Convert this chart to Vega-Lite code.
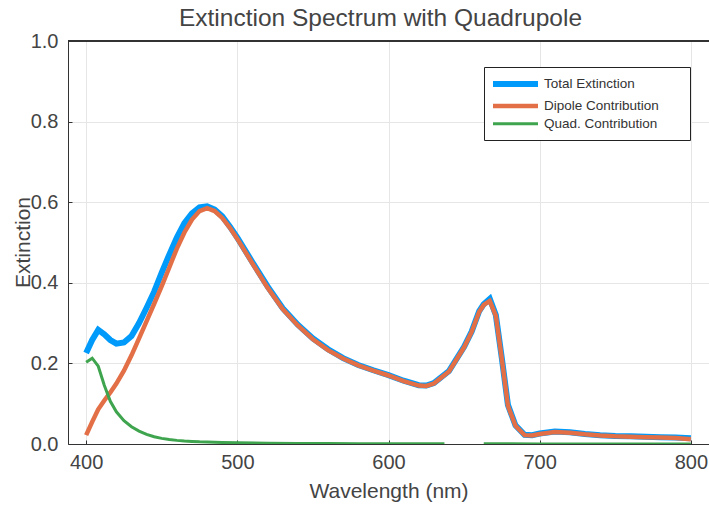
{
  "$schema": "https://vega.github.io/schema/vega-lite/v6.json",
  "width": 641,
  "height": 403,
  "autosize": {"type": "none"},
  "padding": {"left": 68, "top": 41, "right": 0, "bottom": 62},
  "background": "white",
  "title": {"text": "Extinction Spectrum with Quadrupole", "fontSize": 24.5, "font": "Liberation Sans", "fontWeight": "normal", "color": "#444444", "anchor": "middle", "offset": 0, "dx": -8},
  "config": {
    "view": {"stroke": null},
    "axis": {"labelFont": "Liberation Sans", "titleFont": "Liberation Sans", "labelColor": "#444444", "titleColor": "#444444", "titleFontWeight": "normal", "gridColor": "#e6e6e6", "gridWidth": 1, "domainColor": "#333333", "tickColor": "#333333"},
    "legend": {"labelFont": "Liberation Sans", "titleFont": "Liberation Sans"}
  },
  "data": {"values": [
    {"w":400,"s":"Total Extinction","v":0.226,"p":"a"},
    {"w":404,"s":"Total Extinction","v":0.258,"p":"a"},
    {"w":408,"s":"Total Extinction","v":0.283,"p":"a"},
    {"w":412,"s":"Total Extinction","v":0.272,"p":"a"},
    {"w":416,"s":"Total Extinction","v":0.258,"p":"a"},
    {"w":420,"s":"Total Extinction","v":0.249,"p":"a"},
    {"w":425,"s":"Total Extinction","v":0.252,"p":"a"},
    {"w":430,"s":"Total Extinction","v":0.268,"p":"a"},
    {"w":435,"s":"Total Extinction","v":0.300,"p":"a"},
    {"w":440,"s":"Total Extinction","v":0.338,"p":"a"},
    {"w":445,"s":"Total Extinction","v":0.378,"p":"a"},
    {"w":450,"s":"Total Extinction","v":0.425,"p":"a"},
    {"w":455,"s":"Total Extinction","v":0.470,"p":"a"},
    {"w":460,"s":"Total Extinction","v":0.512,"p":"a"},
    {"w":465,"s":"Total Extinction","v":0.548,"p":"a"},
    {"w":470,"s":"Total Extinction","v":0.572,"p":"a"},
    {"w":475,"s":"Total Extinction","v":0.587,"p":"a"},
    {"w":480,"s":"Total Extinction","v":0.590,"p":"a"},
    {"w":485,"s":"Total Extinction","v":0.582,"p":"a"},
    {"w":490,"s":"Total Extinction","v":0.565,"p":"a"},
    {"w":495,"s":"Total Extinction","v":0.540,"p":"a"},
    {"w":500,"s":"Total Extinction","v":0.512,"p":"a"},
    {"w":510,"s":"Total Extinction","v":0.451,"p":"a"},
    {"w":520,"s":"Total Extinction","v":0.391,"p":"a"},
    {"w":530,"s":"Total Extinction","v":0.337,"p":"a"},
    {"w":540,"s":"Total Extinction","v":0.296,"p":"a"},
    {"w":550,"s":"Total Extinction","v":0.262,"p":"a"},
    {"w":560,"s":"Total Extinction","v":0.235,"p":"a"},
    {"w":570,"s":"Total Extinction","v":0.213,"p":"a"},
    {"w":580,"s":"Total Extinction","v":0.196,"p":"a"},
    {"w":590,"s":"Total Extinction","v":0.183,"p":"a"},
    {"w":600,"s":"Total Extinction","v":0.171,"p":"a"},
    {"w":610,"s":"Total Extinction","v":0.157,"p":"a"},
    {"w":620,"s":"Total Extinction","v":0.146,"p":"a"},
    {"w":625,"s":"Total Extinction","v":0.145,"p":"a"},
    {"w":630,"s":"Total Extinction","v":0.151,"p":"a"},
    {"w":640,"s":"Total Extinction","v":0.181,"p":"a"},
    {"w":650,"s":"Total Extinction","v":0.241,"p":"a"},
    {"w":655,"s":"Total Extinction","v":0.279,"p":"a"},
    {"w":660,"s":"Total Extinction","v":0.330,"p":"a"},
    {"w":663,"s":"Total Extinction","v":0.347,"p":"a"},
    {"w":667,"s":"Total Extinction","v":0.360,"p":"a"},
    {"w":671,"s":"Total Extinction","v":0.320,"p":"a"},
    {"w":675,"s":"Total Extinction","v":0.212,"p":"a"},
    {"w":679,"s":"Total Extinction","v":0.097,"p":"a"},
    {"w":684,"s":"Total Extinction","v":0.046,"p":"a"},
    {"w":690,"s":"Total Extinction","v":0.023,"p":"a"},
    {"w":695,"s":"Total Extinction","v":0.022,"p":"a"},
    {"w":700,"s":"Total Extinction","v":0.026,"p":"a"},
    {"w":710,"s":"Total Extinction","v":0.031,"p":"a"},
    {"w":720,"s":"Total Extinction","v":0.029,"p":"a"},
    {"w":730,"s":"Total Extinction","v":0.025,"p":"a"},
    {"w":740,"s":"Total Extinction","v":0.022,"p":"a"},
    {"w":750,"s":"Total Extinction","v":0.020,"p":"a"},
    {"w":760,"s":"Total Extinction","v":0.019,"p":"a"},
    {"w":770,"s":"Total Extinction","v":0.018,"p":"a"},
    {"w":780,"s":"Total Extinction","v":0.017,"p":"a"},
    {"w":790,"s":"Total Extinction","v":0.016,"p":"a"},
    {"w":800,"s":"Total Extinction","v":0.014,"p":"a"},

    {"w":400,"s":"Dipole Contribution","v":0.022,"p":"a"},
    {"w":404,"s":"Dipole Contribution","v":0.055,"p":"a"},
    {"w":408,"s":"Dipole Contribution","v":0.086,"p":"a"},
    {"w":412,"s":"Dipole Contribution","v":0.108,"p":"a"},
    {"w":416,"s":"Dipole Contribution","v":0.128,"p":"a"},
    {"w":420,"s":"Dipole Contribution","v":0.150,"p":"a"},
    {"w":425,"s":"Dipole Contribution","v":0.182,"p":"a"},
    {"w":430,"s":"Dipole Contribution","v":0.220,"p":"a"},
    {"w":435,"s":"Dipole Contribution","v":0.262,"p":"a"},
    {"w":440,"s":"Dipole Contribution","v":0.305,"p":"a"},
    {"w":445,"s":"Dipole Contribution","v":0.348,"p":"a"},
    {"w":450,"s":"Dipole Contribution","v":0.392,"p":"a"},
    {"w":455,"s":"Dipole Contribution","v":0.438,"p":"a"},
    {"w":460,"s":"Dipole Contribution","v":0.485,"p":"a"},
    {"w":465,"s":"Dipole Contribution","v":0.525,"p":"a"},
    {"w":470,"s":"Dipole Contribution","v":0.557,"p":"a"},
    {"w":475,"s":"Dipole Contribution","v":0.578,"p":"a"},
    {"w":480,"s":"Dipole Contribution","v":0.585,"p":"a"},
    {"w":485,"s":"Dipole Contribution","v":0.578,"p":"a"},
    {"w":490,"s":"Dipole Contribution","v":0.561,"p":"a"},
    {"w":495,"s":"Dipole Contribution","v":0.537,"p":"a"},
    {"w":500,"s":"Dipole Contribution","v":0.509,"p":"a"},
    {"w":510,"s":"Dipole Contribution","v":0.448,"p":"a"},
    {"w":520,"s":"Dipole Contribution","v":0.388,"p":"a"},
    {"w":530,"s":"Dipole Contribution","v":0.335,"p":"a"},
    {"w":540,"s":"Dipole Contribution","v":0.294,"p":"a"},
    {"w":550,"s":"Dipole Contribution","v":0.260,"p":"a"},
    {"w":560,"s":"Dipole Contribution","v":0.233,"p":"a"},
    {"w":570,"s":"Dipole Contribution","v":0.212,"p":"a"},
    {"w":580,"s":"Dipole Contribution","v":0.195,"p":"a"},
    {"w":590,"s":"Dipole Contribution","v":0.182,"p":"a"},
    {"w":600,"s":"Dipole Contribution","v":0.170,"p":"a"},
    {"w":610,"s":"Dipole Contribution","v":0.156,"p":"a"},
    {"w":620,"s":"Dipole Contribution","v":0.145,"p":"a"},
    {"w":625,"s":"Dipole Contribution","v":0.144,"p":"a"},
    {"w":630,"s":"Dipole Contribution","v":0.150,"p":"a"},
    {"w":640,"s":"Dipole Contribution","v":0.180,"p":"a"},
    {"w":650,"s":"Dipole Contribution","v":0.240,"p":"a"},
    {"w":655,"s":"Dipole Contribution","v":0.278,"p":"a"},
    {"w":660,"s":"Dipole Contribution","v":0.328,"p":"a"},
    {"w":663,"s":"Dipole Contribution","v":0.345,"p":"a"},
    {"w":667,"s":"Dipole Contribution","v":0.355,"p":"a"},
    {"w":671,"s":"Dipole Contribution","v":0.318,"p":"a"},
    {"w":675,"s":"Dipole Contribution","v":0.210,"p":"a"},
    {"w":679,"s":"Dipole Contribution","v":0.095,"p":"a"},
    {"w":684,"s":"Dipole Contribution","v":0.045,"p":"a"},
    {"w":690,"s":"Dipole Contribution","v":0.022,"p":"a"},
    {"w":695,"s":"Dipole Contribution","v":0.021,"p":"a"},
    {"w":700,"s":"Dipole Contribution","v":0.025,"p":"a"},
    {"w":710,"s":"Dipole Contribution","v":0.030,"p":"a"},
    {"w":720,"s":"Dipole Contribution","v":0.028,"p":"a"},
    {"w":730,"s":"Dipole Contribution","v":0.024,"p":"a"},
    {"w":740,"s":"Dipole Contribution","v":0.021,"p":"a"},
    {"w":750,"s":"Dipole Contribution","v":0.019,"p":"a"},
    {"w":760,"s":"Dipole Contribution","v":0.018,"p":"a"},
    {"w":770,"s":"Dipole Contribution","v":0.017,"p":"a"},
    {"w":780,"s":"Dipole Contribution","v":0.016,"p":"a"},
    {"w":790,"s":"Dipole Contribution","v":0.015,"p":"a"},
    {"w":800,"s":"Dipole Contribution","v":0.012,"p":"a"},

    {"w":400,"s":"Quad. Contribution","v":0.203,"p":"a"},
    {"w":404,"s":"Quad. Contribution","v":0.213,"p":"a"},
    {"w":408,"s":"Quad. Contribution","v":0.193,"p":"a"},
    {"w":412,"s":"Quad. Contribution","v":0.146,"p":"a"},
    {"w":416,"s":"Quad. Contribution","v":0.106,"p":"a"},
    {"w":420,"s":"Quad. Contribution","v":0.080,"p":"a"},
    {"w":425,"s":"Quad. Contribution","v":0.058,"p":"a"},
    {"w":430,"s":"Quad. Contribution","v":0.043,"p":"a"},
    {"w":435,"s":"Quad. Contribution","v":0.032,"p":"a"},
    {"w":440,"s":"Quad. Contribution","v":0.024,"p":"a"},
    {"w":445,"s":"Quad. Contribution","v":0.018,"p":"a"},
    {"w":450,"s":"Quad. Contribution","v":0.014,"p":"a"},
    {"w":455,"s":"Quad. Contribution","v":0.011,"p":"a"},
    {"w":460,"s":"Quad. Contribution","v":0.009,"p":"a"},
    {"w":465,"s":"Quad. Contribution","v":0.0075,"p":"a"},
    {"w":470,"s":"Quad. Contribution","v":0.0065,"p":"a"},
    {"w":475,"s":"Quad. Contribution","v":0.0055,"p":"a"},
    {"w":480,"s":"Quad. Contribution","v":0.005,"p":"a"},
    {"w":490,"s":"Quad. Contribution","v":0.004,"p":"a"},
    {"w":500,"s":"Quad. Contribution","v":0.003,"p":"a"},
    {"w":520,"s":"Quad. Contribution","v":0.002,"p":"a"},
    {"w":540,"s":"Quad. Contribution","v":0.0015,"p":"a"},
    {"w":560,"s":"Quad. Contribution","v":0.001,"p":"a"},
    {"w":580,"s":"Quad. Contribution","v":0.0008,"p":"a"},
    {"w":600,"s":"Quad. Contribution","v":0.0007,"p":"a"},
    {"w":620,"s":"Quad. Contribution","v":0.0005,"p":"a"},
    {"w":637,"s":"Quad. Contribution","v":0.0004,"p":"a"},
    {"w":663,"s":"Quad. Contribution","v":0.0004,"p":"b"},
    {"w":680,"s":"Quad. Contribution","v":0.0004,"p":"b"},
    {"w":700,"s":"Quad. Contribution","v":0.0003,"p":"b"},
    {"w":750,"s":"Quad. Contribution","v":0.0002,"p":"b"},
    {"w":800,"s":"Quad. Contribution","v":0.0002,"p":"b"}
  ]},
  "encoding": {
    "x": {"field": "w", "type": "quantitative",
      "scale": {"domain": [388, 812], "nice": false, "zero": false},
      "axis": {"title": "Wavelength (nm)", "values": [400, 500, 600, 700, 800], "format": "d", "labelFontSize": 20, "titleFontSize": 21, "tickSize": -4, "labelPadding": 12, "titleY": 53, "titleBaseline": "alphabetic", "labelFlush": false}},
    "y": {"field": "v", "type": "quantitative",
      "scale": {"domain": [0, 1], "nice": false},
      "axis": {"title": "Extinction", "values": [0, 0.2, 0.4, 0.6, 0.8, 1.0], "format": ".1f", "labelFontSize": 20, "titleFontSize": 21, "tickSize": -4, "labelPadding": 14, "titleX": -35, "titleY": 201, "titleBaseline": "bottom", "titleAlign": "center", "labelFlush": false}},
    "detail": {"field": "p"},
    "color": {"field": "s", "type": "ordinal",
      "scale": {"domain": ["Total Extinction", "Dipole Contribution", "Quad. Contribution"], "range": ["#009AFA", "#E36F47", "#3EA44E"]},
      "legend": {"title": "\u2003", "titleOrient": "right", "titlePadding": 22, "titleFontSize": 13, "orient": "none", "legendX": 416, "legendY": 26, "fillColor": "white", "strokeColor": "#222222", "padding": 9, "symbolType": "M-1.6,0H7.4", "symbolSize": 100, "labelFontSize": 13.5, "labelColor": "#333333", "rowPadding": 0.5, "labelOffset": 35}},
    "strokeWidth": {"field": "s", "type": "ordinal",
      "scale": {"domain": ["Total Extinction", "Dipole Contribution", "Quad. Contribution"], "range": [6, 3, 3]},
      "legend": null}
  },
  "layer": [
    {"transform": [{"filter": "datum.s === 'Total Extinction'"}], "mark": {"type": "line", "clip": true}},
    {"transform": [{"filter": "datum.s === 'Dipole Contribution'"}], "mark": {"type": "line", "clip": true}},
    {"transform": [{"filter": "datum.s === 'Quad. Contribution'"}], "mark": {"type": "line", "clip": true}},
    {"mark": {"type": "rule", "color": "#333333", "strokeWidth": 1}, "encoding": {"y": {"datum": 1}, "x": null, "color": null, "strokeWidth": null, "detail": null}}
  ]
}
